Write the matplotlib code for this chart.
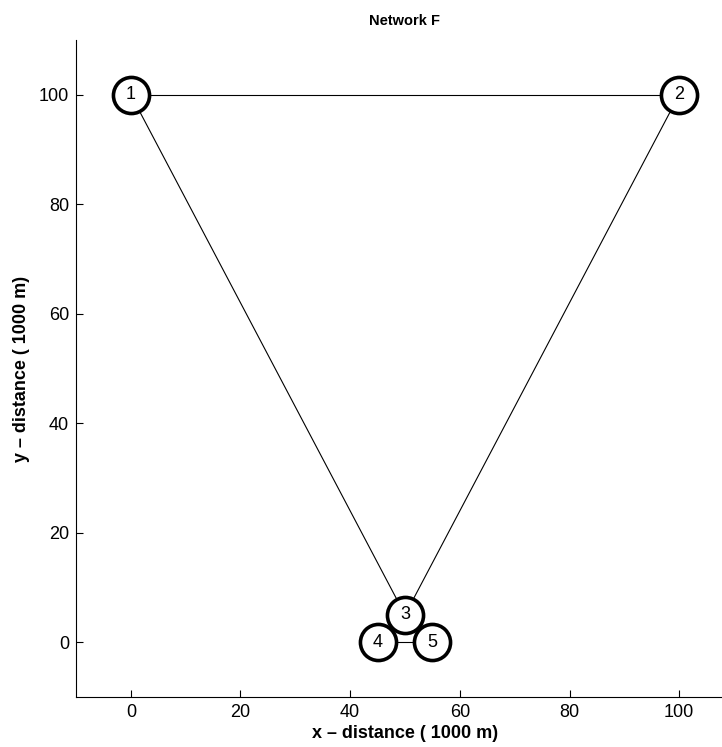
import matplotlib
matplotlib.use('Agg')
import matplotlib.pyplot as plt

plt.rcParams['font.family'] = ['Liberation Sans', 'DejaVu Sans']

# node positions (1000 m)
node_ids = [1, 2, 3, 4, 5]
node_x = [0, 100, 50, 45, 55]
node_y = [100, 100, 5, 0, 0]
edges = [(1, 2), (1, 3), (2, 3), (4, 5)]

fig = plt.figure(figsize=(7.22, 7.47), dpi=100)
ax = fig.add_axes([76 / 722, 50 / 747, 658 / 722, 657 / 747])

pos = {n: (x, y) for n, x, y in zip(node_ids, node_x, node_y)}
for a, b in edges:
    ax.plot([pos[a][0], pos[b][0]], [pos[a][1], pos[b][1]], color='black', linewidth=0.8, zorder=1)

ax.plot(node_x, node_y, linestyle='none', marker='o', markersize=26,
        markerfacecolor='white', markeredgecolor='black', markeredgewidth=2.6,
        zorder=2, clip_on=False)
for n, x, y in zip(node_ids, node_x, node_y):
    ax.text(x, y, str(n), ha='center', va='center', fontsize=13, zorder=3)

ax.set_xlim(-10, 110)
ax.set_ylim(-10, 110)
ax.set_xticks([0, 20, 40, 60, 80, 100])
ax.set_yticks([0, 20, 40, 60, 80, 100])
ax.tick_params(direction='in', labelsize=13, length=5, width=0.8, pad=5)
ax.spines['top'].set_visible(False)
ax.spines['right'].set_visible(False)

ax.set_title('Network F', fontsize=10.5, fontweight='bold', pad=11)
ax.set_xlabel('x \u2013 distance ( 1000 m)', fontsize=13, fontweight='bold', labelpad=3)
ax.set_ylabel('y \u2013 distance ( 1000 m)', fontsize=13, fontweight='bold', labelpad=6)

fig.savefig('out.png', dpi=100)
